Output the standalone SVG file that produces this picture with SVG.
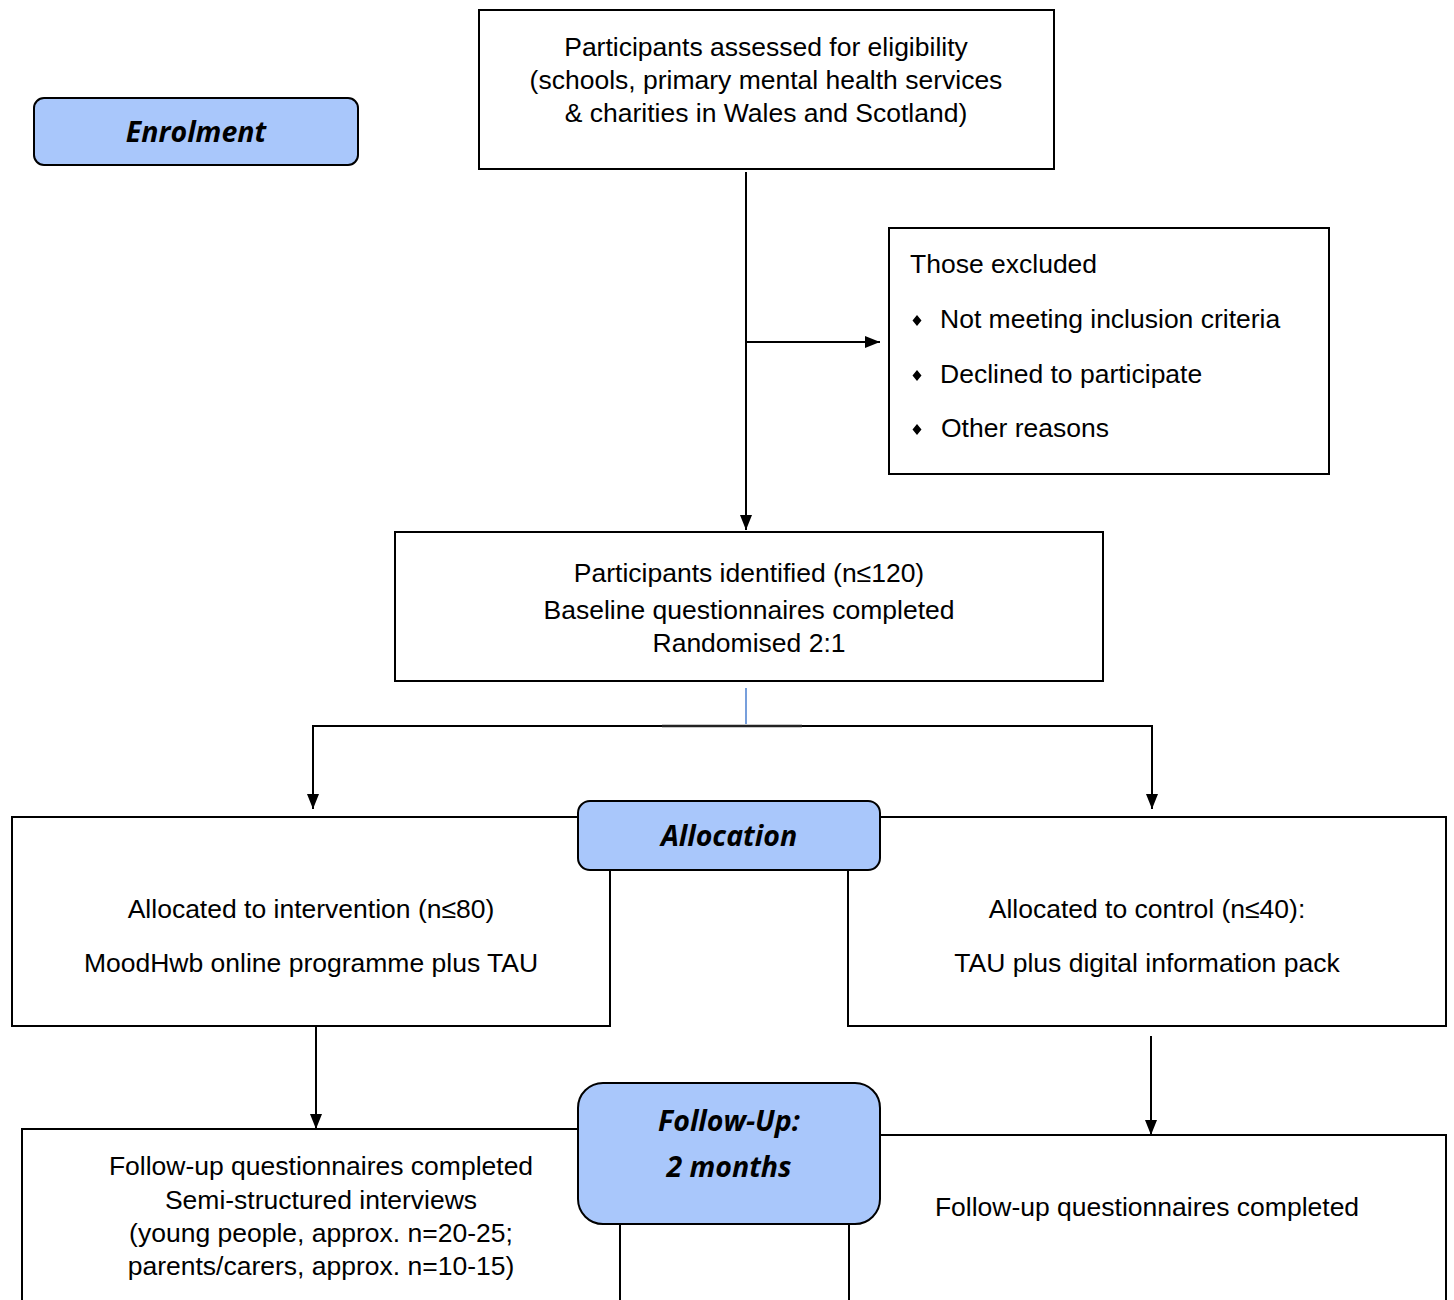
<svg xmlns="http://www.w3.org/2000/svg" width="1454" height="1300" viewBox="0 0 1454 1300">
<defs>
<marker id="arr" markerWidth="15" markerHeight="12" refX="15" refY="6" orient="auto" markerUnits="userSpaceOnUse" viewBox="0 0 15 12">
<path d="M0,0 L15,6 L0,12 z" fill="#000"/>
</marker>
<style>
.box{fill:#fff;stroke:#000;stroke-width:2}
.stage{fill:#a9c7fb;stroke:#000;stroke-width:2}
.t{font-family:"Liberation Sans",Arial,sans-serif;font-size:26.5px;fill:#000}
.c{text-anchor:middle}
.s{font-family:"Open Sans",Lato,sans-serif;font-size:28.5px;font-weight:bold;font-style:italic;fill:#000;text-anchor:middle}
.ln{stroke:#000;stroke-width:2;fill:none}
</style>
</defs>
<rect width="1454" height="1300" fill="#fff"/>
<g id="connectors">
<line class="ln" x1="746" y1="172" x2="746" y2="530" marker-end="url(#arr)"/>
<line class="ln" x1="746" y1="342" x2="880" y2="342" marker-end="url(#arr)"/>
<line x1="746" y1="688" x2="746" y2="724" stroke="#4a7fd0" stroke-width="1.5"/>
<polyline class="ln" points="313,790 313,726 1152,726 1152,790"/>
<line class="ln" x1="313" y1="726" x2="313" y2="809" marker-end="url(#arr)"/>
<line class="ln" x1="1152" y1="726" x2="1152" y2="809" marker-end="url(#arr)"/>
<line x1="662" y1="726" x2="802" y2="726" stroke="#222" stroke-width="2.5"/>
<line class="ln" x1="316" y1="1027" x2="316" y2="1129" marker-end="url(#arr)"/>
<line class="ln" x1="1151" y1="1036" x2="1151" y2="1135" marker-end="url(#arr)"/>
</g>
<g id="enrolment">
<rect class="stage" x="34" y="98" width="324" height="67" rx="10"/>
<text class="s" x="196" y="142">Enrolment</text>
</g>
<g id="assessed">
<rect class="box" x="479" y="10" width="575" height="159"/>
<text class="t c" x="766" y="56">Participants assessed for eligibility</text>
<text class="t c" x="766" y="89">(schools, primary mental health services</text>
<text class="t c" x="766" y="122">&amp; charities in Wales and Scotland)</text>
</g>
<g id="excluded">
<rect class="box" x="889" y="228" width="440" height="246"/>
<text class="t" x="910" y="273">Those excluded</text>
<path d="M917,315 l4.5,5.5 l-4.5,5.5 l-4.5,-5.5 z M917,370 l4.5,5.5 l-4.5,5.5 l-4.5,-5.5 z M917,424 l4.5,5.5 l-4.5,5.5 l-4.5,-5.5 z" fill="#000"/>
<text class="t" x="940" y="328">Not meeting inclusion criteria</text>
<text class="t" x="940" y="383">Declined to participate</text>
<text class="t" x="941" y="437">Other reasons</text>
</g>
<g id="identified">
<rect class="box" x="395" y="532" width="708" height="149"/>
<text class="t c" x="749" y="582">Participants identified (n≤120)</text>
<text class="t c" x="749" y="619">Baseline questionnaires completed</text>
<text class="t c" x="749" y="652">Randomised 2:1</text>
</g>
<g id="intervention">
<rect class="box" x="12" y="817" width="598" height="209"/>
<text class="t c" x="311" y="918">Allocated to intervention (n≤80)</text>
<text class="t c" x="311" y="972">MoodHwb online programme plus TAU</text>
</g>
<g id="control">
<rect class="box" x="848" y="817" width="598" height="209"/>
<text class="t c" x="1147" y="918">Allocated to control (n≤40):</text>
<text class="t c" x="1147" y="972">TAU plus digital information pack</text>
</g>
<g id="allocation">
<rect class="stage" x="578" y="801" width="302" height="69" rx="12"/>
<text class="s" x="729" y="846">Allocation</text>
</g>
<g id="followup-intervention">
<rect class="box" x="22" y="1129" width="598" height="200"/>
<text class="t c" x="321" y="1175">Follow-up questionnaires completed</text>
<text class="t c" x="321" y="1209">Semi-structured interviews</text>
<text class="t c" x="321" y="1242">(young people, approx. n=20-25;</text>
<text class="t c" x="321" y="1275">parents/carers, approx. n=10-15)</text>
</g>
<g id="followup-control">
<rect class="box" x="849" y="1135" width="597" height="200"/>
<text class="t c" x="1147" y="1216">Follow-up questionnaires completed</text>
</g>
<g id="followup">
<rect class="stage" x="578" y="1083" width="302" height="141" rx="25"/>
<text class="s" x="729" y="1131">Follow-Up:</text>
<text class="s" x="729" y="1177">2 months</text>
</g>
</svg>
